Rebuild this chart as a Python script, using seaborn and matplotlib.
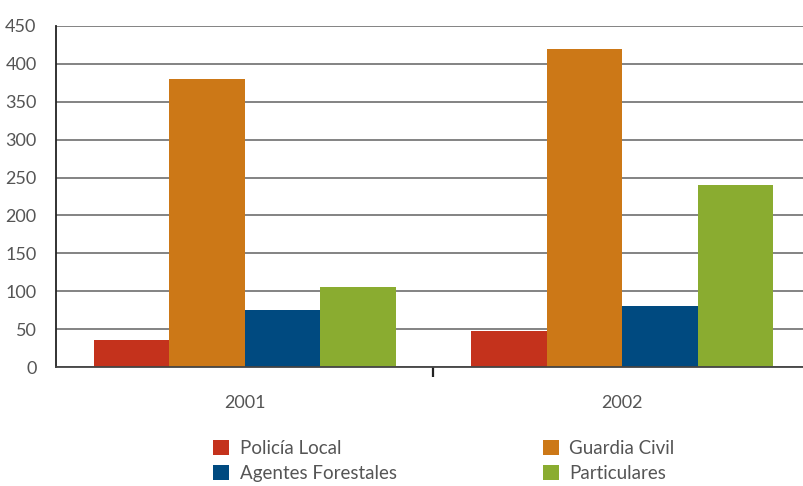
import pandas as pd
import numpy as np
import seaborn as sns
import matplotlib.pyplot as plt

# datos
years = ["2001", "2002"]
series = ["Policía Local", "Guardia Civil", "Agentes Forestales", "Particulares"]
policia = [35, 47]
guardia = [380, 420]
agentes = [75, 80]
particulares = [105, 240]
colores = ["#C4321C", "#CC7817", "#004A80", "#8AAC30"]

df = pd.DataFrame({
    "year": years * 4,
    "serie": np.repeat(series, 2),
    "valor": policia + guardia + agentes + particulares,
})

sns.set_style("white")
plt.rcParams["font.family"] = ["Lato", "DejaVu Sans"]

fig = plt.figure(figsize=(8.04, 4.86), dpi=100)
ax = fig.add_axes([56 / 804, 1 - 367 / 486, (811 - 56) / 804, (367 - 26) / 486])

sns.barplot(data=df, x="year", y="valor", hue="serie", hue_order=series,
            palette=colores, width=0.8, saturation=1, linewidth=0,
            ax=ax, legend=True)

ax.set_xlim(-0.5, 1.5)
ax.set_ylim(0, 450)
ax.set_yticks(range(0, 451, 50))
ax.yaxis.grid(True, color="#6e6e6e", linewidth=1.2)
ax.set_axisbelow(True)
for s in ["top", "right"]:
    ax.spines[s].set_visible(False)
ax.spines["left"].set_color("#222222")
ax.spines["bottom"].set_color("#444444")
ax.spines["left"].set_linewidth(1.3)
ax.spines["bottom"].set_linewidth(1.3)
ax.set_xlabel("")
ax.set_ylabel("")
ax.tick_params(axis="y", colors="#555555", labelsize=13, length=0, pad=14)
ax.tick_params(axis="x", colors="#555555", labelsize=13, length=0, pad=20)
# marca pequeña entre los dos años
ax.set_xticks([0.5], minor=True)
ax.tick_params(axis="x", which="minor", bottom=True, length=7, width=1.6,
               color="#222222", direction="out")

h, l = ax.get_legend_handles_labels()
ax.legend_.remove()
# orden para 2 columnas: Policía/Agentes a la izquierda, Guardia/Particulares a la derecha
orden = [0, 2, 1, 3]
fig.legend([h[i] for i in orden], [l[i] for i in orden], ncol=2,
           loc="center", bbox_to_anchor=(0.552, 1 - 461 / 486), frameon=False,
           fontsize=13.5, labelcolor="#555555", handlelength=0.85, handleheight=0.85,
           handletextpad=0.55, columnspacing=7.8, labelspacing=0.45)

fig.savefig("out.png", dpi=100)
